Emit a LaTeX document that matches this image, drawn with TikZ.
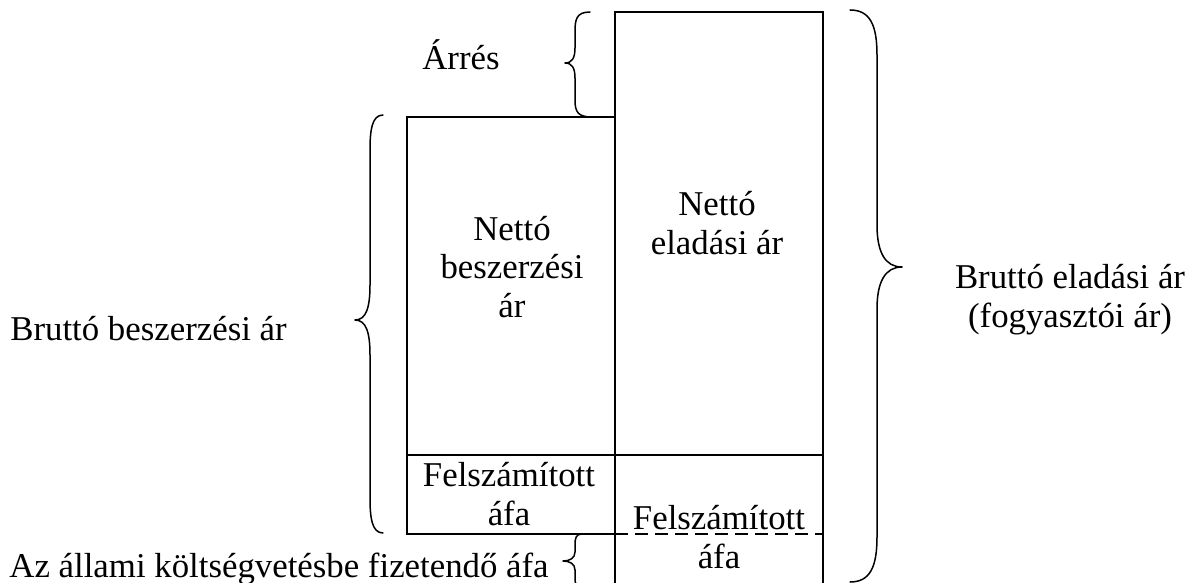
\documentclass[tikz,border=0pt]{standalone}
\usepackage{fontspec}
\setmainfont{Liberation Serif}
\begin{document}
\begin{tikzpicture}[x=1pt,y=-1pt, line width=1.6pt,
  lbl/.style={inner sep=0pt, anchor=base, align=center, font=\fontsize{34.8}{38.5}\selectfont},
  bracepath/.style={line width=1.5pt, line join=round, line cap=round}]
\useasboundingbox (0,0) rectangle (1196,583);
% boxes
\draw (615,590) -- (615,12) -- (823,12) -- (823,590);
\draw (615,117) -- (407,117) -- (407,534) -- (615,534);
\draw (407,455) -- (823,455);
\draw[dash pattern=on 13pt off 7pt] (615,534) -- (823,534);
% braces
\draw[bracepath] (590,12) .. controls (576,12) and (575,20) .. (575,32) -- (575,48) .. controls (575,58) and (572,63) .. (565,63) .. controls (572,63) and (575,68) .. (575,78) -- (575,100) .. controls (575,112) and (578,117) .. (592,117);
\draw[bracepath] (383,115) .. controls (372,115) and (370,130) .. (370,150) -- (370,285) .. controls (370,308) and (366,320) .. (355,320) .. controls (366,320) and (370,332) .. (370,355) -- (370,498) .. controls (370,518) and (372,533) .. (383,533);
\draw[bracepath] (850,10) .. controls (870,10) and (877,25) .. (877,55) -- (877,225) .. controls (877,252) and (885,267) .. (902,267) .. controls (885,267) and (877,282) .. (877,309) -- (877,537) .. controls (877,567) and (870,582) .. (850,582);
\draw[bracepath] (582,534) .. controls (576,534) and (575,538) .. (575,545) -- (575,552) .. controls (575,558) and (570,561) .. (563,561) .. controls (570,561) and (575,564) .. (575,570) -- (575,577) .. controls (575,584) and (576,588) .. (582,588);
% labels
\node[lbl] (arres) at (461,70) {Árrés};
\node[lbl] (nbesz) at (512,317) {Nettó\\beszerzési\\ár};
\node[lbl] (nelad) at (717,254) {Nettó\\eladási ár};
\node[lbl] (fafa1) at (509,525) {Felszámított\\áfa};
\node[lbl] (fafa2) at (719,568) {Felszámított\\áfa};
\node[lbl] (bbesz) at (148.5,340) {Bruttó beszerzési ár};
\node[lbl] (belad) at (1070,327) {Bruttó eladási ár\\(fogyasztói ár)};
\node[lbl] (allami) at (279,577) {Az állami költségvetésbe fizetendő áfa};
\end{tikzpicture}
\end{document}
